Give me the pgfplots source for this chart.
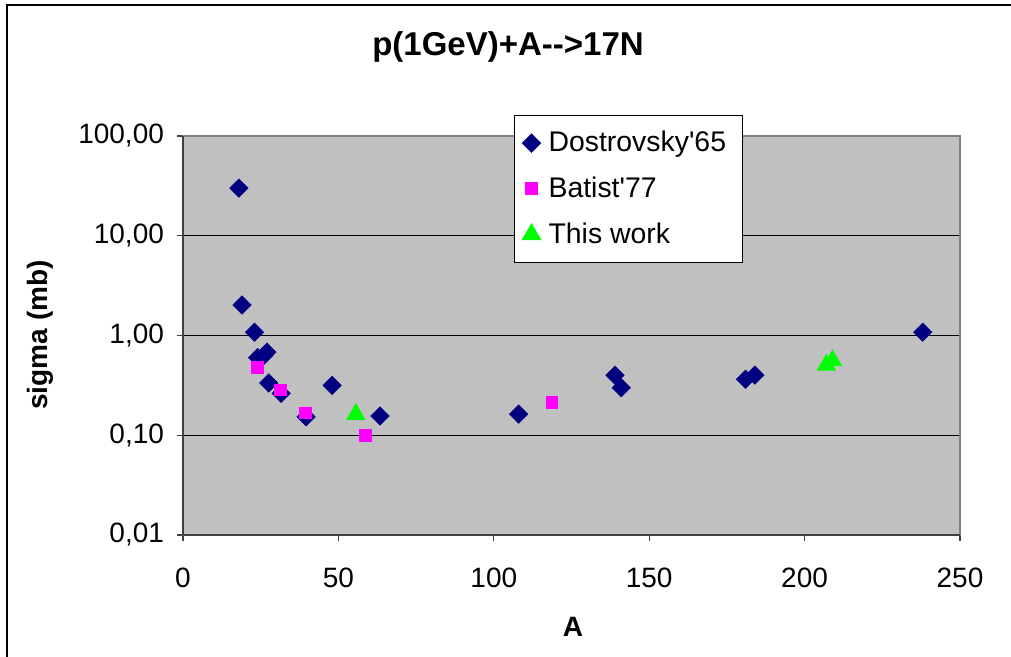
\documentclass[border=0pt]{standalone}
\usepackage{pgfplots}
\pgfplotsset{compat=1.18}
\usepackage{fontspec}
\setmainfont{Liberation Sans}
\definecolor{navyc}{RGB}{0,0,128}
\definecolor{plotgray}{RGB}{192,192,192}
\definecolor{framegray}{RGB}{128,128,128}
\definecolor{darkax}{RGB}{64,64,64}
\definecolor{magc}{RGB}{255,0,255}
\definecolor{limec}{RGB}{0,255,0}
\begin{document}
\begin{tikzpicture}
\path[use as bounding box] (-91.5pt,-61pt) rectangle (414pt,267.5pt);
\draw[line width=1pt] (-88pt,-70pt) -- (-88pt,265pt) -- (420pt,265pt);
\begin{axis}[
  at={(0pt,0pt)}, anchor=south west,
  scale only axis, width=388.5pt, height=199.5pt,
  ymode=log,
  xmin=0, xmax=250, ymin=0.01, ymax=100,
  xtick={0,50,100,150,200,250},
  ytick={0.01,0.1,1,10,100},
  yticklabels={{0,01},{0,10},{1,00},{10,00},{100,00}},
  yminorticks=false,
  tick pos=left,
  tick align=outside,
  major tick length=3pt,
  tick style={draw=darkax, line width=0.6pt},
  ymajorgrids,
  major grid style={draw=black, line width=0.5pt},
  axis background/.style={fill=plotgray},
  axis line style={draw=framegray, line width=1pt},
  /pgf/number format/assume math mode=true,
  ticklabel style={font=\fontsize{14}{17}\selectfont},
  xticklabel style={yshift=-10pt},
  yticklabel style={xshift=-3pt},
  legend style={at={(0.426,1.053)}, anchor=north west, draw=black, line width=0.5pt,
    fill=white, font=\fontsize{14.2}{17}\selectfont, row sep=7pt,
    inner xsep=4pt, inner ysep=6pt,
    nodes={inner xsep=4pt}},
  legend cell align=left,
  clip=false,
]
\addplot[only marks, mark=square*, mark size=3.2pt, mark options={rotate=45, fill=navyc, draw=navyc}]
coordinates {
(18,30) (19,2.02) (23,1.08) (24,0.6) (26,0.63) (27,0.68) (27.6,0.334) (31.6,0.263)
(39.6,0.153) (48,0.316) (63.4,0.156) (108,0.163) (139,0.40) (141,0.30)
(181,0.364) (184,0.40) (238,1.08)
};
\addlegendentry{Dostrovsky\textquotesingle 65\hspace{4pt}}
\addplot[only marks, mark=square*, mark size=2.9pt, mark options={fill=magc, draw=magc}]
coordinates {
(24,0.48) (31.4,0.284) (39.3,0.168) (58.6,0.099) (118.7,0.212)
};
\addlegendentry{Batist\textquotesingle 77}
\addplot[only marks, mark=triangle*, mark size=5.2pt, mark options={fill=limec, draw=limec}]
coordinates {
(55.6,0.162) (207,0.506) (209,0.56)
};
\addlegendentry{This work}
\draw[darkax, line width=1pt] (rel axis cs:0,0) -- (rel axis cs:0,1);
\draw[darkax, line width=1pt] (rel axis cs:0,0) -- (rel axis cs:1,0);
\end{axis}
\node[font=\bfseries\fontsize{16.5}{19}\selectfont] at (162.5pt,244pt) {p(1GeV)+A-{}->17N};
\node[font=\bfseries\fontsize{14}{17}\selectfont, rotate=90] at (-71.5pt,100pt) {sigma (mb)};
\node[font=\bfseries\fontsize{14}{17}\selectfont] at (195pt,-46pt) {A};
\end{tikzpicture}
\end{document}
